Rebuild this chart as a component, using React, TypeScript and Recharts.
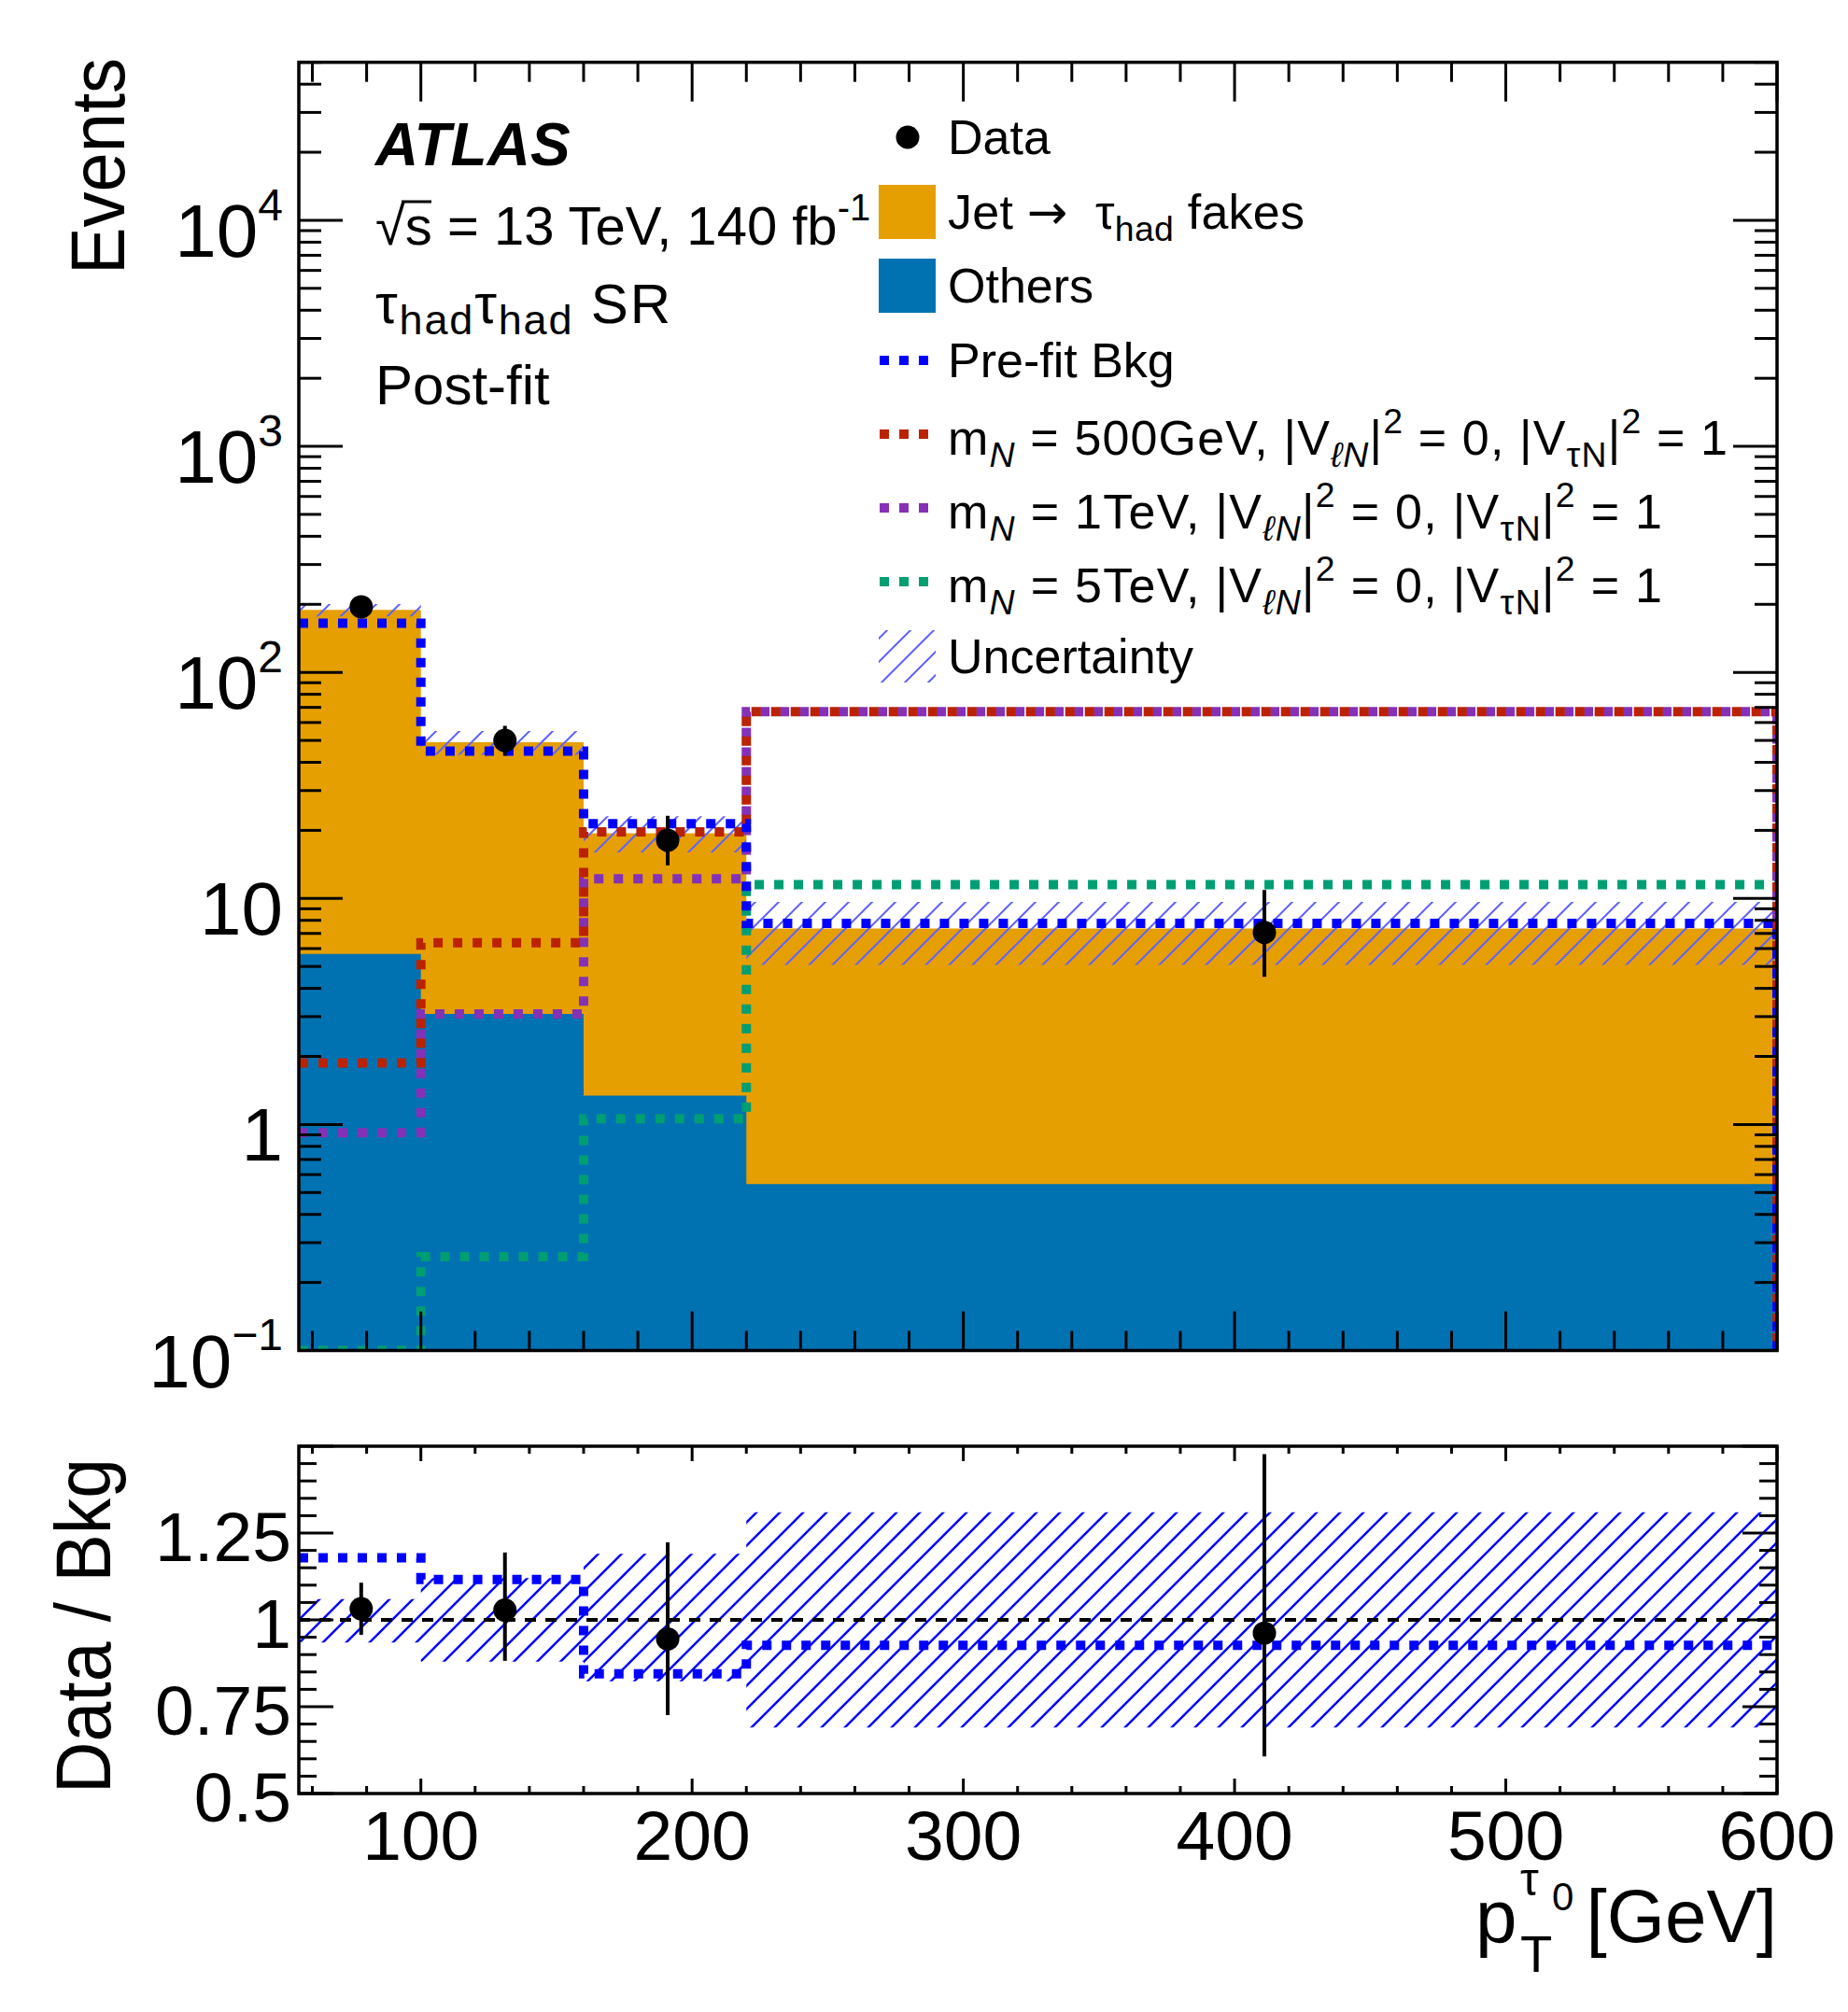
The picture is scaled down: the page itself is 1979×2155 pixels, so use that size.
import React from "react";
import {
  ComposedChart,
  Area,
  Line,
  Scatter,
  ErrorBar,
  XAxis,
  YAxis,
  ReferenceLine,
} from "recharts";

// ---- data ----
const binEdges = [55, 100, 160, 220, 600];
const others = [5.68, 3.08, 1.34, 0.545];
const jetFakes = [183.3, 46.0, 18.06, 6.82];
const prefitBkg = [165, 44.8, 21.4, 7.75];
const sig500 = [1.87, 6.37, 19.7, 67];
const sig1000 = [0.92, 3.08, 12.2, 67];
const sig5000 = [0.1, 0.26, 1.06, 11.5];
const uncUp = [1.06, 1.12, 1.19, 1.31];
const uncDown = [0.935, 0.88, 0.823, 0.69];

const dataX = [78, 131, 191, 411];
const dataY = [195, 50, 18.1, 7.07];
const dataErrDown = [14, 7.2, 4.1, 2.57];
const dataErrUp = [14, 8, 5.1, 3.83];

const ratioData = [1.032, 1.028, 0.945, 0.962];
const ratioErrDown = [0.075, 0.146, 0.219, 0.355];
const ratioErrUp = [0.075, 0.166, 0.278, 0.515];
const ratioPrefit = [1.179, 1.116, 0.845, 0.927];

// ticks
const xMajor = [100, 200, 300, 400, 500, 600];
const xMinor = [60, 80, 120, 140, 160, 180, 220, 240, 260, 280, 320, 340, 360, 380, 420, 440, 460, 480, 520, 540, 560, 580];
const yMajor = [0.1, 1, 10, 100, 1000, 10000];
const yMinorMult = [2, 3, 4, 5, 6, 7, 8, 9];
const yMinor = [0.1, 1, 10, 100, 1000]
  .flatMap((d) => yMinorMult.map((m) => +(m * d).toPrecision(3)))
  .concat([20000, 30000, 40000, 50000]);
const rMajor = [0.5, 0.75, 1, 1.25, 1.5];
const rMinor = [0.55, 0.6, 0.65, 0.7, 0.8, 0.85, 0.9, 0.95, 1.05, 1.1, 1.15, 1.2, 1.3, 1.35, 1.4, 1.45];
const rLabels: Record<string, string> = { "0.5": "0.5", "0.75": "0.75", "1": "1", "1.25": "1.25" };
const yExp: Record<string, string> = { "0.1": "−1", "1": "", "10": "", "100": "2", "1000": "3", "10000": "4" };

// ---- layout ----
const FONT = "'Liberation Sans', Arial, Helvetica, sans-serif";
const PX0 = 320;
const PX1 = 1903;
const MH = 1530;
const MY0 = 66.7;
const MY1 = 1446.5;
const RTOP = 1480;
const RH = 675;
const RY0 = 69;
const RY1 = 441;

// ---- tables built from the arrays ----
const step = (vals: number[], drop = false) => {
  const rows = binEdges.map((x, i) => ({ x, v: vals[Math.min(i, vals.length - 1)] }));
  if (drop) rows.push({ x: binEdges[binEdges.length - 1], v: 0.1 });
  return rows;
};
const stackRows = binEdges.map((x, i) => {
  const k = Math.min(i, others.length - 1);
  const total = others[k] + jetFakes[k];
  return { x, others: others[k], total, band: [total * uncDown[k], total * uncUp[k]] };
});
const ratioBandRows = binEdges.map((x, i) => {
  const k = Math.min(i, uncUp.length - 1);
  return { x, band: [uncDown[k], uncUp[k]] };
});
const dataRows = dataX.map((x, i) => ({ x, y: dataY[i], err: [dataErrDown[i], dataErrUp[i]] }));
const ratioRows = dataX.map((x, i) => ({ x, y: ratioData[i], err: [ratioErrDown[i], ratioErrUp[i]] }));

type Part = { t: string; sub?: boolean; sup?: boolean; it?: boolean; f?: string };

function Rich({ x, y, size, parts, anchor = "start", sub = 0.25, sup = 0.45, small = 0.72, len }: {
  x: number; y: number; size: number; parts: Part[]; anchor?: string; sub?: number; sup?: number; small?: number; len?: number;
}) {
  let cur = 0;
  return (
    <text
      x={x}
      y={y}
      fontSize={size}
      textAnchor={anchor}
      fontFamily={FONT}
      fill="#000"
      style={{ whiteSpace: "pre" }}
      textLength={len}
      lengthAdjust={len ? "spacing" : undefined}
    >
      {parts.map((p, i) => {
        const shift = p.sub ? size * sub : p.sup ? -size * sup : 0;
        const dy = shift - cur;
        cur = shift;
        return (
          <tspan key={i} dy={dy} fontSize={p.sub || p.sup ? size * small : size} fontStyle={p.it ? "italic" : undefined} fontFamily={p.f}>
            {p.t}
          </tspan>
        );
      })}
    </text>
  );
}

const tickStyle = { stroke: "#000", strokeWidth: 3 };

function MainYTick(props: any) {
  const { y, payload } = props;
  const v = payload.value;
  const major = yMajor.includes(v);
  const len = major ? 47 : 24;
  const exp = yExp[String(v)];
  const parts: Part[] = v === 1 ? [{ t: "1" }] : exp ? [{ t: "10" }, { t: exp, sup: true }] : [{ t: "10" }];
  return (
    <g>
      <line x1={PX0} x2={PX0 + len} y1={y} y2={y} {...tickStyle} />
      <line x1={PX1 - len} x2={PX1} y1={y} y2={y} {...tickStyle} />
      {major && <Rich x={303} y={y + 39} size={80} parts={parts} sup={0.49} small={0.6} anchor="end" />}
    </g>
  );
}

function MainXTick(props: any) {
  const { x, payload } = props;
  const len = xMajor.includes(payload.value) ? 42 : 21;
  return (
    <g>
      <line x1={x} x2={x} y1={MY1} y2={MY1 - len} {...tickStyle} />
      <line x1={x} x2={x} y1={MY0} y2={MY0 + len} {...tickStyle} />
    </g>
  );
}

function RatioYTick(props: any) {
  const { y, payload } = props;
  const v = payload.value;
  const major = rMajor.includes(v);
  const len = major ? 37 : 19;
  const label = rLabels[String(v)];
  return (
    <g>
      <line x1={PX0} x2={PX0 + len} y1={y} y2={y} {...tickStyle} />
      <line x1={PX1 - len} x2={PX1} y1={y} y2={y} {...tickStyle} />
      {label && (
        <text x={312} y={y + 30} fontSize={75} textAnchor="end" fontFamily={FONT}>
          {label}
        </text>
      )}
    </g>
  );
}

function RatioXTick(props: any) {
  const { x, payload } = props;
  const major = xMajor.includes(payload.value);
  const len = major ? 16 : 8;
  return (
    <g>
      <line x1={x} x2={x} y1={RY1} y2={RY1 - len} {...tickStyle} />
      <line x1={x} x2={x} y1={RY0} y2={RY0 + len} {...tickStyle} />
      {major && (
        <text x={x} y={512} fontSize={75} textAnchor="middle" fontFamily={FONT}>
          {payload.value}
        </text>
      )}
    </g>
  );
}

const dotted = { strokeWidth: 10, strokeDasharray: "10 11", dot: false, activeDot: false, isAnimationActive: false, type: "stepAfter" as const };

function Dot(props: any) {
  return <circle cx={props.cx} cy={props.cy} r={12.5} fill="#000" />;
}

function Legend() {
  const lx = 1015;
  const rows = [147, 227, 306, 386, 465, 544, 623, 703];
  const mParts = (mass: string): Part[] => [
    { t: "m" }, { t: "N", sub: true, it: true }, { t: ` = ${mass}, |V` }, { t: "ℓN", sub: true, it: true },
    { t: "|" }, { t: "2", sup: true }, { t: " = 0, |V" }, { t: "τN", sub: true }, { t: "|" }, { t: "2", sup: true }, { t: " = 1" },
  ];
  const dots = [
    { c: "#0000ff", y: rows[3] },
    { c: "#bb2200", y: rows[4] },
    { c: "#8431b8", y: rows[5] },
    { c: "#009e73", y: rows[6] },
  ];
  return (
    <g>
      <circle cx={972} cy={rows[0]} r={12.5} fill="#000" />
      <rect x={941} y={rows[1] - 29} width={61} height={58} fill="#e69f00" />
      <rect x={941} y={rows[2] - 29} width={61} height={58} fill="#0072b2" />
      {dots.map((d) => (
        <line key={d.c} x1={942} x2={996} y1={d.y} y2={d.y} stroke={d.c} strokeWidth={10} strokeDasharray="10 11" />
      ))}
      <rect x={941} y={rows[7] - 28} width={61} height={56} fill="url(#hatchMain)" />
      <Rich x={lx} y={rows[0] + 18} size={52} parts={[{ t: "Data" }]} />
      <Rich
        x={lx}
        y={rows[1] + 18}
        size={52}
        len={382}
        parts={[{ t: "Jet " }, { t: "→", f: "'DejaVu Sans', sans-serif" }, { t: "  τ" }, { t: "had", sub: true }, { t: " fakes" }]}
      />
      <Rich x={lx} y={rows[2] + 18} size={52} parts={[{ t: "Others" }]} />
      <Rich x={lx} y={rows[3] + 18} size={52} parts={[{ t: "Pre-fit Bkg" }]} />
      <Rich x={lx} y={rows[4] + 22} size={52} len={835} parts={mParts("500GeV")} />
      <Rich x={lx} y={rows[5] + 22} size={52} len={765} parts={mParts("1TeV")} />
      <Rich x={lx} y={rows[6] + 22} size={52} len={765} parts={mParts("5TeV")} />
      <Rich x={lx} y={rows[7] + 18} size={52} parts={[{ t: "Uncertainty" }]} />
    </g>
  );
}

export default function App() {
  return (
    <div style={{ position: "absolute", left: 0, top: 0, width: 1979, height: 2155, background: "#fff", overflow: "hidden" }}>
      <svg width={0} height={0} style={{ position: "absolute" }}>
        <defs>
          <pattern id="hatchMain" patternUnits="userSpaceOnUse" width={25} height={25}>
            <path d="M0,25 L25,0 M-6.25,6.25 L6.25,-6.25 M18.75,31.25 L31.25,18.75" stroke="#6262ff" strokeWidth={2} />
          </pattern>
          <pattern id="hatchRatio" patternUnits="userSpaceOnUse" width={25} height={25}>
            <path d="M0,25 L25,0 M-6.25,6.25 L6.25,-6.25 M18.75,31.25 L31.25,18.75" stroke="#0000ff" strokeWidth={2.5} />
          </pattern>
        </defs>
      </svg>

      {/* ratio panel */}
      <div style={{ position: "absolute", left: 0, top: RTOP }}>
        <ComposedChart width={1979} height={RH} margin={{ top: RY0, left: PX0 - 2, right: 1979 - PX1, bottom: RH - RY1 - 2 }}>
          <Area data={ratioBandRows} dataKey="band" type="stepAfter" fill="url(#hatchRatio)" fillOpacity={1} stroke="none" isAnimationActive={false} />
          <ReferenceLine y={1} stroke="#000" strokeWidth={4} strokeDasharray="12 10" />
          <Line data={step(ratioPrefit)} dataKey="v" stroke="#0000ff" {...dotted} />
          <Scatter data={ratioRows} dataKey="y" shape={<Dot />} isAnimationActive={false}>
            <ErrorBar dataKey="err" direction="y" width={0} stroke="#000" strokeWidth={4} isAnimationActive={false} />
          </Scatter>
          <XAxis
            type="number"
            dataKey="x"
            domain={[55, 600]}
            allowDataOverflow
            ticks={[...xMinor, ...xMajor]}
            interval={0}
            height={2}
            axisLine={false}
            tickLine={false}
            tick={<RatioXTick />}
          />
          <YAxis
            type="number"
            domain={[0.5, 1.5]}
            allowDataOverflow
            ticks={[...rMinor, ...rMajor]}
            interval={0}
            width={2}
            axisLine={false}
            tickLine={false}
            tick={<RatioYTick />}
          />
        </ComposedChart>
      </div>

      {/* main panel */}
      <div style={{ position: "absolute", left: 0, top: 0 }}>
        <ComposedChart width={1979} height={MH} margin={{ top: MY0, left: PX0 - 2, right: 1979 - PX1, bottom: MH - MY1 - 2 }}>
          <Area data={stackRows} dataKey="total" type="stepAfter" fill="#e69f00" fillOpacity={1} stroke="none" isAnimationActive={false} />
          <Area data={stackRows} dataKey="others" type="stepAfter" fill="#0072b2" fillOpacity={1} stroke="none" isAnimationActive={false} />
          <Area data={stackRows} dataKey="band" type="stepAfter" fill="url(#hatchMain)" fillOpacity={1} stroke="none" isAnimationActive={false} />
          <Line data={step(sig5000, true)} dataKey="v" stroke="#009e73" {...dotted} />
          <Line data={step(sig1000, true)} dataKey="v" stroke="#8431b8" {...dotted} />
          <Line data={step(sig500, true)} dataKey="v" stroke="#bb2200" {...dotted} />
          <Line data={step(prefitBkg, true)} dataKey="v" stroke="#0000ff" {...dotted} />
          <Scatter data={dataRows} dataKey="y" shape={<Dot />} isAnimationActive={false}>
            <ErrorBar dataKey="err" direction="y" width={0} stroke="#000" strokeWidth={4} isAnimationActive={false} />
          </Scatter>
          <XAxis
            type="number"
            dataKey="x"
            domain={[55, 600]}
            allowDataOverflow
            ticks={[...xMinor, ...xMajor]}
            interval={0}
            height={2}
            axisLine={false}
            tickLine={false}
            tick={<MainXTick />}
          />
          <YAxis
            type="number"
            scale="log"
            domain={[0.1, 50000]}
            allowDataOverflow
            ticks={[...yMinor, ...yMajor]}
            interval={0}
            width={2}
            axisLine={false}
            tickLine={false}
            tick={<MainYTick />}
          />
        </ComposedChart>
      </div>

      {/* frames, titles, legend */}
      <svg width={1979} height={2155} style={{ position: "absolute", left: 0, top: 0, pointerEvents: "none" }} fontFamily={FONT}>
        <rect x={PX0} y={MY0} width={PX1 - PX0} height={MY1 - MY0} fill="none" stroke="#000" strokeWidth={3.5} />
        <rect x={PX0} y={RTOP + RY0} width={PX1 - PX0} height={RY1 - RY0} fill="none" stroke="#000" strokeWidth={3.5} />

        <text transform="translate(133,62) rotate(-90)" textAnchor="end" fontSize={82} textLength={232} lengthAdjust="spacingAndGlyphs">
          Events
        </text>
        <text transform={`translate(118,${RTOP + 82}) rotate(-90)`} textAnchor="end" fontSize={84} textLength={359} lengthAdjust="spacingAndGlyphs">
          Data / Bkg
        </text>

        <text x={402} y={177} fontSize={64} fontWeight="bold" fontStyle="italic">ATLAS</text>
        <text x={402} y={262} fontSize={58} style={{ whiteSpace: "pre" }}>
          <tspan>√</tspan>
          <tspan>s</tspan>
          <tspan> = 13 TeV, 140 fb</tspan>
          <tspan dy={-26} fontSize={40}>-1</tspan>
        </text>
        <line x1={430} x2={462} y1={216} y2={216} stroke="#000" strokeWidth={3} />
        <Rich
          x={402}
          y={346}
          size={60}
          sub={0.2}
          small={0.75}
          len={316}
          parts={[{ t: "τ" }, { t: "had", sub: true }, { t: "τ" }, { t: "had", sub: true }, { t: " SR" }]}
        />
        <text x={402} y={433} fontSize={60}>Post-fit</text>

        <Legend />

        {/* x axis title */}
        <text x={1580} y={2080} fontSize={80}>p</text>
        <text x={1628} y={2112} fontSize={56}>T</text>
        <text x={1628} y={2030} fontSize={50}>τ</text>
        <text x={1662} y={2046} fontSize={42}>0</text>
        <text x={1903} y={2080} fontSize={80} textAnchor="end">[GeV]</text>
      </svg>
    </div>
  );
}
